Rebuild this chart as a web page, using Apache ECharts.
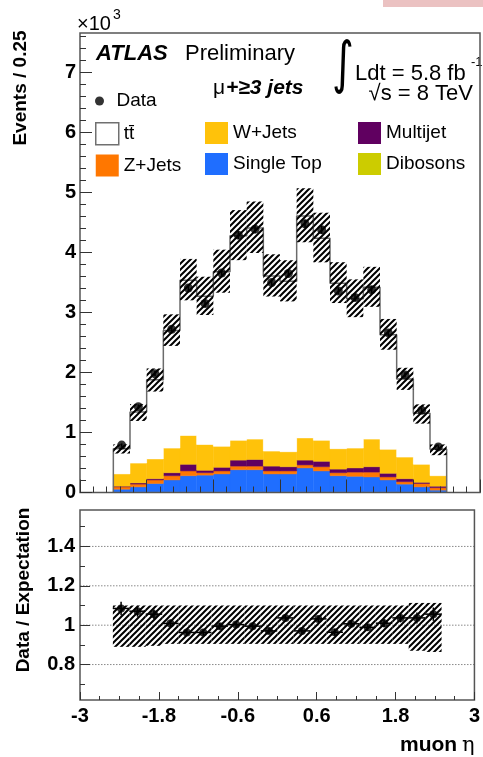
<!DOCTYPE html>
<html>
<head>
<meta charset="utf-8">
<script src="https://cdn.jsdelivr.net/npm/echarts@6/dist/echarts.min.js"></script>
<style>
html,body{margin:0;padding:0;background:#fff;}
#chart{width:483px;height:757px;}
</style>
</head>
<body>
<div id="chart"></div>
<script>
// muon eta, bins of 0.25 (events in units of 10^3)
var binEdges = [-2.5,-2.25,-2,-1.75,-1.5,-1.25,-1,-0.75,-0.5,-0.25,0,0.25,0.5,0.75,1,1.25,1.5,1.75,2,2.25,2.5];
var dataVals = [0.79,1.43,1.98,2.72,3.41,3.15,3.66,4.29,4.39,3.50,3.65,4.48,4.38,3.36,3.25,3.38,2.66,1.96,1.37,0.76];
var dataErr  = [0.028,0.038,0.044,0.052,0.058,0.056,0.060,0.065,0.066,0.059,0.060,0.067,0.066,0.058,0.057,0.058,0.052,0.044,0.037,0.028];
var diboson   = [0.01,0.01,0.01,0.01,0.01,0.01,0.01,0.01,0.01,0.01,0.01,0.01,0.01,0.01,0.01,0.01,0.01,0.01,0.01,0.01];
var singleTop = [0.045,0.084,0.14,0.20,0.27,0.28,0.30,0.37,0.37,0.30,0.30,0.40,0.35,0.27,0.26,0.25,0.20,0.13,0.084,0.03];
var zJets     = [0.039,0.046,0.06,0.07,0.08,0.04,0.05,0.06,0.06,0.05,0.05,0.05,0.07,0.05,0.07,0.08,0.05,0.04,0.056,0.04];
var multijet  = [0.011,0.02,0.02,0.05,0.11,0.04,0.06,0.10,0.11,0.08,0.07,0.08,0.09,0.06,0.07,0.09,0.06,0.05,0.02,0.025];
var wJets     = [0.205,0.33,0.33,0.41,0.48,0.43,0.35,0.33,0.34,0.25,0.25,0.37,0.35,0.34,0.33,0.46,0.40,0.36,0.30,0.175];
var ttbar     = [0.42,0.85,1.32,1.96,2.59,2.47,2.91,3.41,3.52,2.92,2.84,3.70,3.37,2.76,2.49,2.53,1.91,1.30,0.85,0.44];

// ratio panel
var ratioVals = [1.085,1.071,1.056,1.009,0.963,0.963,0.995,1.003,0.995,0.971,1.037,0.971,1.032,0.964,1.007,0.989,1.010,1.037,1.037,1.056];
var ratioErr  = [0.034,0.028,0.024,0.020,0.017,0.017,0.016,0.015,0.015,0.016,0.017,0.015,0.016,0.017,0.018,0.017,0.020,0.023,0.028,0.034];
var bandUp    = [1.10,1.10,1.10,1.10,1.10,1.10,1.10,1.10,1.10,1.10,1.10,1.10,1.10,1.10,1.10,1.10,1.10,1.10,1.113,1.113];
var bandDown  = [0.89,0.89,0.895,0.905,0.905,0.905,0.905,0.905,0.905,0.905,0.905,0.905,0.905,0.905,0.905,0.905,0.905,0.905,0.87,0.864];
var ratioGridVals = [0.8,1,1.2,1.4];

// axis ticks
var mainYLabels = [0,1,2,3,4,5,6,7];
var mainXMajor = [-3,-2,-1,0,1,2,3];
var ratioXLabels = [-3,-1.8,-0.6,0.6,1.8,3];
var ratioYLabels = [0.8,1,1.2,1.4];
var ratioYMinor = [0.7,0.9,1.1,1.3,1.5];

function steps(from, to, step, skip) {
  var out = [];
  for (var v = from; v <= to + 1e-9; v += step) {
    var r = Math.round(v * 100) / 100;
    if (skip.indexOf(r) < 0) out.push(r);
  }
  return out;
}
var mainYMinor = steps(0, 7.6, 0.2, mainYLabels);
var mainXMinor = steps(-3, 3, 0.2, mainXMajor);
var ratioXMinor = steps(-3, 3, 0.3, ratioXLabels);

var chart = echarts.init(document.getElementById('chart'));
var FONT = '"Liberation Sans", Arial, sans-serif';
var nBins = dataVals.length;
var centers = [];
for (var i = 0; i < nBins; i++) centers.push((binEdges[i] + binEdges[i + 1]) / 2);

function makeHatch() {
  var s = 6, c = document.createElement('canvas');
  c.width = s; c.height = s;
  var g = c.getContext('2d');
  g.strokeStyle = '#000'; g.lineWidth = 2;
  g.beginPath();
  g.moveTo(-1, s + 1); g.lineTo(s + 1, -1);
  g.moveTo(-1, 1); g.lineTo(1, -1);
  g.moveTo(s - 1, s + 1); g.lineTo(s + 1, s - 1);
  g.stroke();
  return c;
}
var hatch = {image: makeHatch(), repeat: 'repeat'};

function rectRender(fill, stroke) {
  return function (params, api) {
    var p0 = api.coord([api.value(0), api.value(2)]);
    var p1 = api.coord([api.value(1), api.value(3)]);
    return {
      type: 'rect',
      shape: {x: p0[0], y: p1[1], width: p1[0] - p0[0], height: p0[1] - p1[1]},
      style: {fill: fill, stroke: stroke, lineWidth: stroke ? 0.5 : 0}
    };
  };
}

function errRender(params, api) {
  var lo = api.value(0), hi = api.value(1), x = api.value(2), y = api.value(3), e = api.value(4);
  var a = api.coord([lo, y]), b = api.coord([hi, y]);
  var c = api.coord([x, y - e]), d = api.coord([x, y + e]);
  var kids = [{type: 'line', shape: {x1: c[0], y1: c[1], x2: d[0], y2: d[1]}, style: {stroke: '#000', lineWidth: 1.5}}];
  if (lo !== hi) kids.push({type: 'line', shape: {x1: a[0], y1: a[1], x2: b[0], y2: b[1]}, style: {stroke: '#000', lineWidth: 1.5}});
  return {type: 'group', children: kids};
}

var layers = [
  {name: 'Dibosons', vals: diboson, color: '#CCCC00'},
  {name: 'Single Top', vals: singleTop, color: '#1F6EFF'},
  {name: 'Z+Jets', vals: zJets, color: '#FF7700'},
  {name: 'Multijet', vals: multijet, color: '#600060'},
  {name: 'W+Jets', vals: wJets, color: '#FFC20A'},
  {name: 'tt\u0304', vals: ttbar, color: '#FFFFFF'}
];

var series = [];
var total = [];
for (i = 0; i < nBins; i++) total.push(0);
layers.forEach(function (l) {
  var d = [];
  for (var k = 0; k < nBins; k++) {
    d.push([binEdges[k], binEdges[k + 1], total[k], total[k] + l.vals[k]]);
    total[k] += l.vals[k];
  }
  series.push({
    type: 'custom', name: l.name, xAxisIndex: 0, yAxisIndex: 0, z: 2,
    data: d, encode: {x: [0, 1], y: [2, 3]},
    itemStyle: {color: l.color},
    renderItem: rectRender(l.color, l.color)
  });
});

// outline of the full stack
var outline = [[binEdges[0], 0]];
for (i = 0; i < nBins; i++) {
  outline.push([binEdges[i], total[i]]);
  outline.push([binEdges[i + 1], total[i]]);
}
outline.push([binEdges[nBins], 0]);
series.push({
  type: 'line', xAxisIndex: 0, yAxisIndex: 0, z: 3, data: outline,
  symbol: 'none', silent: true, lineStyle: {color: '#6b6b6b', width: 1.5}
});

// uncertainty band on the stack
var bandMain = [];
for (i = 0; i < nBins; i++) bandMain.push([binEdges[i], binEdges[i + 1], total[i] * bandDown[i], total[i] * bandUp[i]]);
series.push({
  type: 'custom', xAxisIndex: 0, yAxisIndex: 0, z: 4, silent: true,
  data: bandMain, encode: {x: [0, 1], y: [2, 3]}, renderItem: rectRender(hatch, null)
});

// data points
var dataPts = [], dataBars = [];
for (i = 0; i < nBins; i++) {
  dataPts.push([centers[i], dataVals[i]]);
  dataBars.push([centers[i], centers[i], centers[i], dataVals[i], dataErr[i]]);
}
series.push({
  type: 'custom', xAxisIndex: 0, yAxisIndex: 0, z: 5, silent: true,
  data: dataBars, encode: {x: 2, y: 3}, renderItem: errRender
});
series.push({
  type: 'scatter', name: 'Data', xAxisIndex: 0, yAxisIndex: 0, z: 6,
  data: dataPts, symbol: 'circle', symbolSize: 9, itemStyle: {color: '#000'}
});

// ratio panel
series.push({
  type: 'custom', xAxisIndex: 2, yAxisIndex: 2, z: 1, silent: true,
  data: ratioGridVals.map(function (v) { return [v]; }),
  renderItem: function (params, api) {
    var a = api.coord([-3, api.value(0)]), b = api.coord([3, api.value(0)]);
    return {type: 'line', shape: {x1: a[0], y1: a[1], x2: b[0], y2: b[1]},
      style: {stroke: '#8a8a8a', lineWidth: 1, lineDash: [1.5, 1.5]}};
  }
});
var bandRatio = [];
for (i = 0; i < nBins; i++) bandRatio.push([binEdges[i], binEdges[i + 1], bandDown[i], bandUp[i]]);
series.push({
  type: 'custom', xAxisIndex: 2, yAxisIndex: 2, z: 3, silent: true,
  data: bandRatio, encode: {x: [0, 1], y: [2, 3]}, renderItem: rectRender(hatch, null)
});
var ratioBars = [], ratioPts = [];
for (i = 0; i < nBins; i++) {
  ratioBars.push([binEdges[i], binEdges[i + 1], centers[i], ratioVals[i], ratioErr[i]]);
  ratioPts.push([centers[i], ratioVals[i]]);
}
series.push({
  type: 'custom', xAxisIndex: 2, yAxisIndex: 2, z: 5, silent: true,
  data: ratioBars, encode: {x: 2, y: 3}, renderItem: errRender
});
series.push({
  type: 'scatter', xAxisIndex: 2, yAxisIndex: 2, z: 6, silent: true,
  data: ratioPts, symbolSize: 8, itemStyle: {color: '#000'}
});

function tickAxis(gridIndex, pos, min, max, ticks, len, labels, margin) {
  return {
    type: 'value', gridIndex: gridIndex, position: pos, min: min, max: max, z: 10,
    axisLine: {show: false, onZero: false},
    splitLine: {show: false},
    axisTick: {show: true, inside: true, length: len, customValues: ticks, lineStyle: {color: '#333', width: 1}},
    axisLabel: labels ? {
      show: true, customValues: labels, margin: margin, color: '#000',
      fontFamily: FONT, fontWeight: 'bold', fontSize: 20,
      formatter: function (v) { return String(Math.round(v * 10) / 10); }
    } : {show: false}
  };
}

var legendText = {fontFamily: FONT, fontSize: 19, color: '#000', lineHeight: 22};
function legendCol(left, items) {
  return {
    orient: 'vertical', left: left, top: 122, padding: 0, itemGap: 9,
    itemWidth: 23, itemHeight: 22, icon: 'rect', selectedMode: false,
    textStyle: legendText, data: items
  };
}

var option = {
  animation: false,
  backgroundColor: '#fff',
  grid: [
    {left: 80, top: 33, width: 400, height: 459.5, show: true, z: 10,
      backgroundColor: 'transparent', borderColor: '#555', borderWidth: 1.5},
    {left: 80, top: 510, width: 400, height: 190, show: true, z: 10,
      backgroundColor: 'transparent', borderColor: '#555', borderWidth: 1.5}
  ],
  xAxis: [
    tickAxis(0, 'bottom', -3, 3, mainXMajor, 13, null),
    tickAxis(0, 'bottom', -3, 3, mainXMinor, 6, null),
    tickAxis(1, 'bottom', -3, 3, ratioXLabels, 8, ratioXLabels, 6),
    tickAxis(1, 'bottom', -3, 3, ratioXMinor, 4, null)
  ],
  yAxis: [
    tickAxis(0, 'left', 0, 7.66, mainYLabels, 12, mainYLabels, 4),
    tickAxis(0, 'left', 0, 7.66, mainYMinor, 6, null),
    tickAxis(1, 'left', 0.62, 1.585, ratioYLabels, 10, ratioYLabels, 5),
    tickAxis(1, 'left', 0.62, 1.585, ratioYMinor, 5, null)
  ],
  legend: [
    {left: 95, top: 90, padding: 0, itemWidth: 24, itemHeight: 9, selectedMode: false,
      textStyle: legendText, data: [{name: 'Data', icon: 'circle', itemStyle: {color: '#000'}}]},
    legendCol(95, [
      {name: 'tt\u0304', itemStyle: {color: '#fff', borderColor: '#707070', borderWidth: 1.5}},
      {name: 'Z+Jets', itemStyle: {color: '#FF7700'}}]),
    legendCol(205, [{name: 'W+Jets', itemStyle: {color: '#FFC20A'}}, {name: 'Single Top', itemStyle: {color: '#1F6EFF'}}]),
    legendCol(358, [{name: 'Multijet', itemStyle: {color: '#600060'}}, {name: 'Dibosons', itemStyle: {color: '#CCCC00'}}])
  ],
  graphic: [
    {type: 'rect', shape: {x: 383, y: 0, width: 100, height: 7}, style: {fill: '#EBC2C2'}},
    {type: 'text', x: 77, y: 24, style: {text: '\u00d710', font: '20px ' + FONT, fill: '#000', textVerticalAlign: 'middle', verticalAlign: 'middle'}},
    {type: 'text', x: 113, y: 15, style: {text: '3', font: '14px ' + FONT, fill: '#000', textVerticalAlign: 'middle', verticalAlign: 'middle'}},
    {type: 'text', x: 21, y: 88, rotation: Math.PI / 2,
      style: {text: 'Events / 0.25', font: 'bold 19px ' + FONT, fill: '#000', textAlign: 'center', align: 'center', textVerticalAlign: 'middle', verticalAlign: 'middle'}},
    {type: 'text', x: 24, y: 590, rotation: Math.PI / 2,
      style: {text: 'Data / Expectation', font: 'bold 19px ' + FONT, fill: '#000', textAlign: 'center', align: 'center', textVerticalAlign: 'middle', verticalAlign: 'middle'}},
    {type: 'text', x: 96, y: 54, style: {text: 'ATLAS', font: 'italic bold 22px ' + FONT, fill: '#000', textVerticalAlign: 'middle', verticalAlign: 'middle'}},
    {type: 'text', x: 185, y: 54, style: {text: 'Preliminary', font: '22px ' + FONT, fill: '#000', textVerticalAlign: 'middle', verticalAlign: 'middle'}},
    {type: 'text', x: 213, y: 88, style: {text: '\u03bc', font: '21px ' + FONT, fill: '#000', textVerticalAlign: 'middle', verticalAlign: 'middle'}},
    {type: 'text', x: 226, y: 88, style: {text: '+\u22653 jets', font: 'italic bold 21px ' + FONT, fill: '#000', textVerticalAlign: 'middle', verticalAlign: 'middle'}},
    {type: 'text', x: 332, y: 67, scaleY: 1.35, style: {text: '\u222b', font: '42px "DejaVu Sans"', fill: '#000', textVerticalAlign: 'middle', verticalAlign: 'middle'}},
    {type: 'text', x: 355, y: 74, style: {text: 'Ldt = 5.8 fb', font: '22px ' + FONT, fill: '#000', textVerticalAlign: 'middle', verticalAlign: 'middle'}},
    {type: 'text', x: 471, y: 62, style: {text: '-1', font: '13px ' + FONT, fill: '#000', textVerticalAlign: 'middle', verticalAlign: 'middle'}},
    {type: 'text', x: 473, y: 94, style: {text: '\u221as = 8 TeV', font: '22px ' + FONT, fill: '#000', textAlign: 'right', align: 'right', textVerticalAlign: 'middle', verticalAlign: 'middle'}},
    {type: 'text', x: 400, y: 745, style: {text: 'muon', font: 'bold 21px ' + FONT, fill: '#000', textVerticalAlign: 'middle', verticalAlign: 'middle'}},
    {type: 'text', x: 462, y: 746, style: {text: '\u03b7', font: '21px "DejaVu Serif"', fill: '#000', textVerticalAlign: 'middle', verticalAlign: 'middle'}}
  ],
  series: series
};
chart.setOption(option);
</script>
</body>
</html>
